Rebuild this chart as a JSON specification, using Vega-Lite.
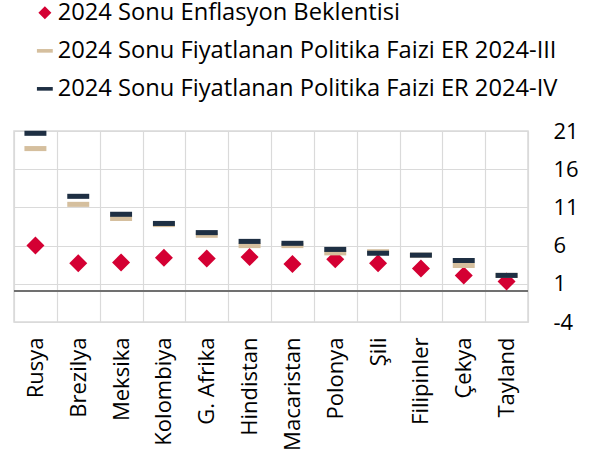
{
  "$schema": "https://vega.github.io/schema/vega-lite/v6.json",
  "width": 514,
  "height": 191,
  "autosize": {"type": "none"},
  "padding": {"left": 14, "top": 131, "right": 74, "bottom": 135},
  "config": {
    "font": "Open Sans",
    "view": {"stroke": "#d9d9d9", "strokeWidth": 1.5},
    "axis": {"labelFont": "Open Sans", "labelFontSize": 22, "labelColor": "#000000", "gridColor": "#dadada", "gridWidth": 1.2, "domain": false, "ticks": false, "title": null, "labelOverlap": false}
  },
  "data": {
    "values": [
      {"country": "Rusya", "series": "2024 Sonu Enflasyon Beklentisi", "value": 6.0},
      {"country": "Brezilya", "series": "2024 Sonu Enflasyon Beklentisi", "value": 3.7},
      {"country": "Meksika", "series": "2024 Sonu Enflasyon Beklentisi", "value": 3.8},
      {"country": "Kolombiya", "series": "2024 Sonu Enflasyon Beklentisi", "value": 4.4},
      {"country": "G. Afrika", "series": "2024 Sonu Enflasyon Beklentisi", "value": 4.3},
      {"country": "Hindistan", "series": "2024 Sonu Enflasyon Beklentisi", "value": 4.5},
      {"country": "Macaristan", "series": "2024 Sonu Enflasyon Beklentisi", "value": 3.6},
      {"country": "Polonya", "series": "2024 Sonu Enflasyon Beklentisi", "value": 4.2},
      {"country": "Şili", "series": "2024 Sonu Enflasyon Beklentisi", "value": 3.7},
      {"country": "Filipinler", "series": "2024 Sonu Enflasyon Beklentisi", "value": 3.0},
      {"country": "Çekya", "series": "2024 Sonu Enflasyon Beklentisi", "value": 2.1},
      {"country": "Tayland", "series": "2024 Sonu Enflasyon Beklentisi", "value": 1.3},
      {"country": "Rusya", "series": "2024 Sonu Fiyatlanan Politika Faizi ER 2024-III", "value": 18.7},
      {"country": "Brezilya", "series": "2024 Sonu Fiyatlanan Politika Faizi ER 2024-III", "value": 11.4},
      {"country": "Meksika", "series": "2024 Sonu Fiyatlanan Politika Faizi ER 2024-III", "value": 9.55},
      {"country": "Kolombiya", "series": "2024 Sonu Fiyatlanan Politika Faizi ER 2024-III", "value": 8.75},
      {"country": "G. Afrika", "series": "2024 Sonu Fiyatlanan Politika Faizi ER 2024-III", "value": 7.35},
      {"country": "Hindistan", "series": "2024 Sonu Fiyatlanan Politika Faizi ER 2024-III", "value": 6.0},
      {"country": "Macaristan", "series": "2024 Sonu Fiyatlanan Politika Faizi ER 2024-III", "value": 6.0},
      {"country": "Polonya", "series": "2024 Sonu Fiyatlanan Politika Faizi ER 2024-III", "value": 5.05},
      {"country": "Şili", "series": "2024 Sonu Fiyatlanan Politika Faizi ER 2024-III", "value": 5.2},
      {"country": "Filipinler", "series": "2024 Sonu Fiyatlanan Politika Faizi ER 2024-III", "value": 4.75},
      {"country": "Çekya", "series": "2024 Sonu Fiyatlanan Politika Faizi ER 2024-III", "value": 3.4},
      {"country": "Tayland", "series": "2024 Sonu Fiyatlanan Politika Faizi ER 2024-III", "value": 2.1},
      {"country": "Rusya", "series": "2024 Sonu Fiyatlanan Politika Faizi ER 2024-IV", "value": 20.7},
      {"country": "Brezilya", "series": "2024 Sonu Fiyatlanan Politika Faizi ER 2024-IV", "value": 12.45},
      {"country": "Meksika", "series": "2024 Sonu Fiyatlanan Politika Faizi ER 2024-IV", "value": 10.1},
      {"country": "Kolombiya", "series": "2024 Sonu Fiyatlanan Politika Faizi ER 2024-IV", "value": 8.9},
      {"country": "G. Afrika", "series": "2024 Sonu Fiyatlanan Politika Faizi ER 2024-IV", "value": 7.7},
      {"country": "Hindistan", "series": "2024 Sonu Fiyatlanan Politika Faizi ER 2024-IV", "value": 6.55},
      {"country": "Macaristan", "series": "2024 Sonu Fiyatlanan Politika Faizi ER 2024-IV", "value": 6.3},
      {"country": "Polonya", "series": "2024 Sonu Fiyatlanan Politika Faizi ER 2024-IV", "value": 5.5},
      {"country": "Şili", "series": "2024 Sonu Fiyatlanan Politika Faizi ER 2024-IV", "value": 5.0},
      {"country": "Filipinler", "series": "2024 Sonu Fiyatlanan Politika Faizi ER 2024-IV", "value": 4.75},
      {"country": "Çekya", "series": "2024 Sonu Fiyatlanan Politika Faizi ER 2024-IV", "value": 4.05},
      {"country": "Tayland", "series": "2024 Sonu Fiyatlanan Politika Faizi ER 2024-IV", "value": 2.1}
    ]
  },
  "encoding": {
    "x": {
      "field": "country",
      "type": "nominal",
      "sort": ["Rusya", "Brezilya", "Meksika", "Kolombiya", "G. Afrika", "Hindistan", "Macaristan", "Polonya", "Şili", "Filipinler", "Çekya", "Tayland"],
      "scale": {"paddingInner": 0, "paddingOuter": 0},
      "axis": {"labelAngle": -90, "labelPadding": 15, "grid": true, "tickBand": "extent", "labelBaseline": "middle", "labelAlign": "right"}
    }
  },
  "layer": [
    {
      "mark": {"type": "rule", "color": "#707070", "strokeWidth": 1.3},
      "encoding": {"x": null, "y": {"datum": 0, "type": "quantitative", "axis": {"orient": "right", "values": [-4, 1, 6, 11, 16, 21], "labelPadding": 25, "labelAlign": "left", "grid": true, "labelOverlap": false, "labelBound": false, "labelExpr": "'' + datum.value"}}}
    },
    {
      "mark": {"type": "point", "filled": true, "opacity": 1, "size": 324, "strokeWidth": 0},
      "encoding": {
        "y": {
          "field": "value",
          "type": "quantitative",
          "scale": {"domain": [-4, 21], "nice": false, "zero": false},
          "axis": {"orient": "right", "values": [-4, 1, 6, 11, 16, 21], "labelPadding": 25, "labelAlign": "left", "grid": true, "labelOverlap": false, "labelBound": false, "labelExpr": "'' + datum.value"}
        },
        "color": {
          "field": "series",
          "type": "nominal",
          "scale": {
            "domain": ["2024 Sonu Enflasyon Beklentisi", "2024 Sonu Fiyatlanan Politika Faizi ER 2024-III", "2024 Sonu Fiyatlanan Politika Faizi ER 2024-IV"],
            "range": ["#d40033", "#d5bf9e", "#1e2f43"]
          },
          "legend": {
            "title": null,
            "orient": "none",
            "legendX": 19,
            "legendY": -130,
            "symbolSize": 169,
            "labelFontSize": 23.7,
            "labelFont": "Open Sans",
            "labelColor": "#000000",
            "labelOffset": 1,
            "rowPadding": 13,
            "labelLimit": 600
          }
        },
        "shape": {
          "field": "series",
          "type": "nominal",
          "scale": {
            "domain": ["2024 Sonu Enflasyon Beklentisi", "2024 Sonu Fiyatlanan Politika Faizi ER 2024-III", "2024 Sonu Fiyatlanan Politika Faizi ER 2024-IV"],
            "range": ["diamond", "M-1.22,-0.28H1.22V0.28H-1.22Z", "M-1.22,-0.28H1.22V0.28H-1.22Z"]
          },
          "legend": {
            "title": null,
            "orient": "none",
            "legendX": 19,
            "legendY": -130,
            "symbolSize": 169,
            "labelFontSize": 23.7,
            "labelFont": "Open Sans",
            "labelColor": "#000000",
            "labelOffset": 1,
            "rowPadding": 13,
            "labelLimit": 600
          }
        }
      }
    }
  ]
}
